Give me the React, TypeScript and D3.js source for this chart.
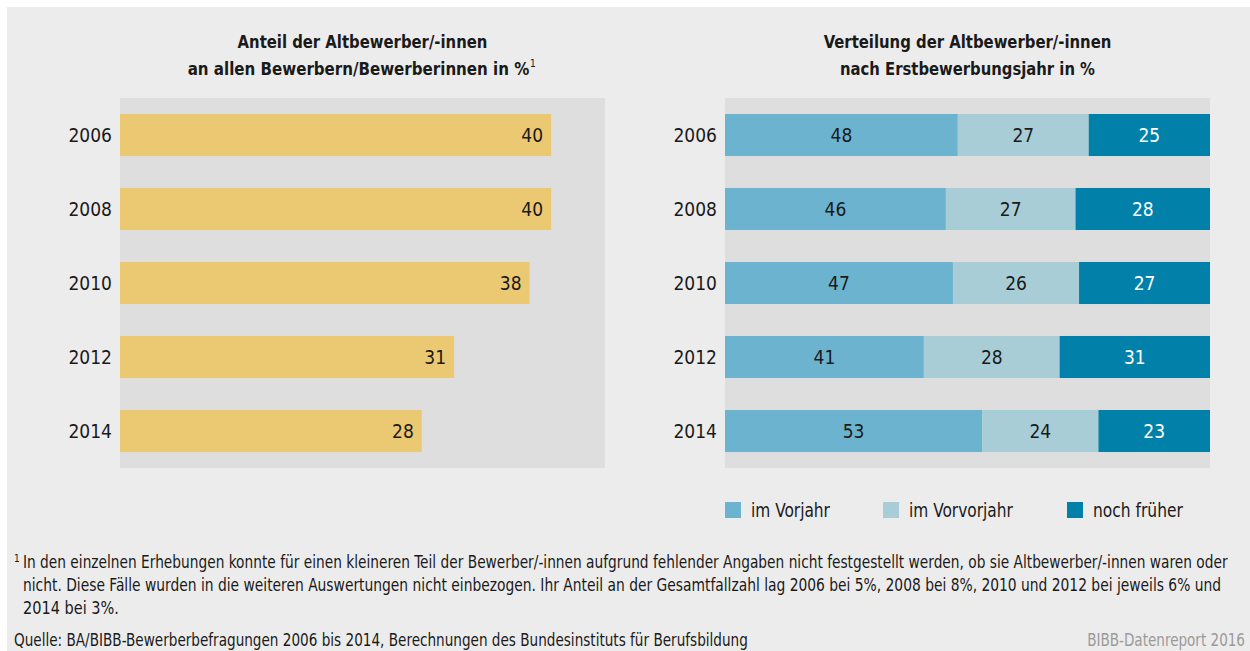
import { useEffect, useRef } from "react";
import * as d3 from "d3";

// Data
const years = ["2006", "2008", "2010", "2012", "2014"];
const shareOld = [40, 40, 38, 31, 28];
const prevYear = [48, 46, 47, 41, 53];
const prevPrevYear = [27, 27, 26, 28, 24];
const earlier = [25, 28, 27, 31, 23];
const seriesNames = ["im Vorjahr", "im Vorvorjahr", "noch früher"];
const seriesColors = ["#6cb3cf", "#a8cdd6", "#0181aa"];

const leftTitle = ["Anteil der Altbewerber/-innen", "an allen Bewerbern/Bewerberinnen in %"];
const rightTitle = ["Verteilung der Altbewerber/-innen", "nach Erstbewerbungsjahr in %"];
const footnote = [
  "In den einzelnen Erhebungen konnte für einen kleineren Teil der Bewerber/-innen aufgrund fehlender Angaben nicht festgestellt werden, ob sie Altbewerber/-innen waren oder",
  "nicht. Diese Fälle wurden in die weiteren Auswertungen nicht einbezogen. Ihr Anteil an der Gesamtfallzahl lag 2006 bei 5%, 2008 bei 8%, 2010 und 2012 bei jeweils 6% und",
  "2014 bei 3%.",
];
const source = "Quelle: BA/BIBB-Bewerberbefragungen 2006 bis 2014, Berechnungen des Bundesinstituts für Berufsbildung";
const credit = "BIBB-Datenreport 2016";

const FONT = "'DejaVu Sans Condensed', 'Liberation Sans Narrow', 'Roboto', sans-serif";

const App = () => {
  const svgRef = useRef<SVGSVGElement | null>(null);

  useEffect(() => {
    const width = 1250;
    const height = 651;
    const svg = d3.select(svgRef.current);
    svg.selectAll("*").remove();
    svg.attr("width", width).attr("height", height).style("font-family", FONT);

    // squeeze a text horizontally around its anchor x to the width it has in
    // the original (which uses a narrower font)
    const fit = (sel: any, w: number) => {
      const node = sel.node() as SVGTextElement;
      const w0 = node.getComputedTextLength();
      if (!w0) return sel;
      const x = +sel.attr("x");
      const s = Math.min(1, w / w0);
      return sel.attr("transform", `translate(${x},0) scale(${s},1) translate(${-x},0)`);
    };

    // Background
    svg.append("rect").attr("width", width).attr("height", height).attr("fill", "#fff");
    svg
      .append("rect")
      .attr("x", 7)
      .attr("y", 7)
      .attr("width", width - 7)
      .attr("height", height - 7)
      .attr("fill", "#ececec");

    const top = 98;
    const bottom = 468;

    const y = d3
      .scaleBand<string>()
      .domain(years)
      .range([top, bottom])
      .paddingInner(0.432)
      .paddingOuter(0.216);

    const drawTitle = (lines: string[], cx: number, widths: number[], sup: boolean) => {
      lines.forEach((l, i) => {
        const last = sup && i === lines.length - 1;
        const t = svg
          .append("text")
          .attr("x", last ? cx - 4 : cx)
          .attr("y", 48 + i * 27)
          .attr("text-anchor", "middle")
          .attr("font-weight", "bold")
          .attr("font-size", 18)
          .attr("fill", "#1a1a1a")
          .text(l);
        fit(t, widths[i]);
        if (last) {
          svg
            .append("text")
            .attr("x", cx - 4 + widths[i] / 2 + 0.5)
            .attr("y", 67)
            .attr("font-size", 10)
            .attr("fill", "#1a1a1a")
            .text("1");
        }
      });
    };

    const drawYears = (xPos: number) => {
      svg
        .append("g")
        .selectAll("text")
        .data(years)
        .join("text")
        .attr("x", xPos)
        .attr("y", (d) => (y(d) as number) + y.bandwidth() / 2)
        .attr("dy", "0.35em")
        .attr("text-anchor", "end")
        .attr("font-size", 19)
        .attr("fill", "#1a1a1a")
        .text((d) => d);
    };

    // Left panel
    const xL = d3.scaleLinear().domain([0, 45]).range([120, 605]);
    svg
      .append("rect")
      .attr("x", xL(0))
      .attr("y", top)
      .attr("width", xL(45) - xL(0))
      .attr("height", bottom - top)
      .attr("fill", "#dedede");
    drawTitle(leftTitle, (xL(0) + xL(45)) / 2, [250, 342], true);
    drawYears(112);

    const left = years.map((yr, i) => ({ yr, v: shareOld[i] }));
    svg
      .append("g")
      .selectAll("rect")
      .data(left)
      .join("rect")
      .attr("x", xL(0))
      .attr("y", (d) => y(d.yr) as number)
      .attr("width", (d) => xL(d.v) - xL(0))
      .attr("height", y.bandwidth())
      .attr("fill", "#ebc972");
    svg
      .append("g")
      .selectAll("text")
      .data(left)
      .join("text")
      .attr("x", (d) => xL(d.v) - 8)
      .attr("y", (d) => (y(d.yr) as number) + y.bandwidth() / 2)
      .attr("dy", "0.35em")
      .attr("text-anchor", "end")
      .attr("font-size", 19)
      .attr("fill", "#1a1a1a")
      .text((d) => d.v);

    // Right panel (shares normalised to the full width)
    const xR = d3.scaleLinear().domain([0, 1]).range([725, 1210]);
    svg
      .append("rect")
      .attr("x", xR(0))
      .attr("y", top)
      .attr("width", xR(1) - xR(0))
      .attr("height", bottom - top)
      .attr("fill", "#dedede");
    drawTitle(rightTitle, (xR(0) + xR(1)) / 2, [288, 255], false);
    drawYears(717);

    const rows = years.map((yr, i) => ({
      yr,
      a: prevYear[i],
      b: prevPrevYear[i],
      c: earlier[i],
    }));
    const keys = ["a", "b", "c"];
    const stacked = d3.stack<any>().keys(keys).offset(d3.stackOffsetExpand)(rows);

    stacked.forEach((layer, k) => {
      const g = svg.append("g");
      g.selectAll("rect")
        .data(layer)
        .join("rect")
        .attr("x", (d) => xR(d[0]))
        .attr("y", (d) => y(d.data.yr) as number)
        .attr("width", (d) => xR(d[1]) - xR(d[0]))
        .attr("height", y.bandwidth())
        .attr("fill", seriesColors[k]);
      g.selectAll("text")
        .data(layer)
        .join("text")
        .attr("x", (d) => (xR(d[0]) + xR(d[1])) / 2)
        .attr("y", (d) => (y(d.data.yr) as number) + y.bandwidth() / 2)
        .attr("dy", "0.35em")
        .attr("text-anchor", "middle")
        .attr("font-size", 19)
        .attr("fill", k === 2 ? "#fff" : "#1a1a1a")
        .text((d) => d.data[keys[k]]);
    });

    // Legend
    const legendX = [725, 883, 1067];
    const legendW = [79, 104, 90];
    const legend = svg.append("g");
    seriesNames.forEach((name, i) => {
      legend
        .append("rect")
        .attr("x", legendX[i])
        .attr("y", 502)
        .attr("width", 16)
        .attr("height", 16)
        .attr("fill", seriesColors[i]);
      const t = legend
        .append("text")
        .attr("x", legendX[i] + 26)
        .attr("y", 510)
        .attr("dy", "0.35em")
        .attr("font-size", 19)
        .attr("fill", "#1a1a1a")
        .text(name);
      fit(t, legendW[i]);
    });

    // Footnote
    svg
      .append("text")
      .attr("x", 14)
      .attr("y", 562)
      .attr("font-size", 10)
      .attr("fill", "#1a1a1a")
      .text("1");
    const footW = [1205, 1199, 96];
    footnote.forEach((line, i) => {
      const t = svg
        .append("text")
        .attr("x", 23)
        .attr("y", 568 + i * 23)
        .attr("font-size", 17)
        .attr("fill", "#1a1a1a")
        .text(line);
      fit(t, footW[i]);
    });
    fit(
      svg
        .append("text")
        .attr("x", 14)
        .attr("y", 646)
        .attr("font-size", 17)
        .attr("fill", "#1a1a1a")
        .text(source),
      734
    );
    fit(
      svg
        .append("text")
        .attr("x", 1245)
        .attr("y", 646)
        .attr("text-anchor", "end")
        .attr("font-size", 17)
        .attr("fill", "#9a9a9a")
        .text(credit),
      158
    );
  }, []);

  return <svg ref={svgRef} style={{ position: "absolute", left: 0, top: 0 }}></svg>;
};

export default App;
